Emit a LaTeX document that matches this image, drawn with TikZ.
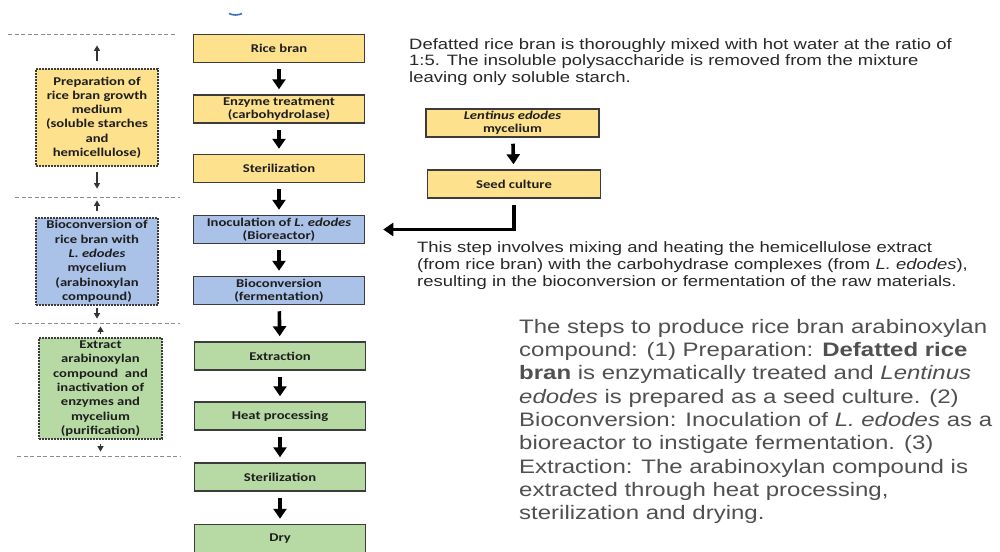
\documentclass[tikz,border=0pt]{standalone}
\usepackage{fontspec}
\newfontfamily\boxfont[FakeStretch=1.23]{Carlito}
\newfontfamily\parafont[FakeStretch=1.23]{Liberation Sans}
\usetikzlibrary{arrows.meta}
\definecolor{fyel}{RGB}{253,225,140}
\definecolor{fblu}{RGB}{170,193,232}
\definecolor{fgrn}{RGB}{183,218,164}
\definecolor{edge}{RGB}{60,60,60}
\definecolor{txt}{RGB}{30,30,30}
\definecolor{paratxt}{RGB}{40,40,40}
\definecolor{graytxt}{RGB}{80,80,80}
\definecolor{artblue}{RGB}{60,110,190}
\begin{document}
\begin{tikzpicture}[x=1pt,y=-1pt,
 mainbox/.style={draw=edge, line width=1.5pt, minimum width=171pt, minimum height=28pt, inner sep=0pt, align=center, text=txt, font=\boxfont\bfseries\fontsize{11.9}{12.7}\selectfont},
 sidebox/.style={draw=edge, line width=1.2pt, dash pattern=on 2pt off 1pt, inner sep=0pt, align=center, text=txt, font=\boxfont\bfseries\fontsize{11.9}{14.3}\selectfont},
 bigarrow/.style={line width=3.6pt, -{Triangle[width=13pt,length=10pt]}, shorten <=6pt, shorten >=5pt},
 thinarrow/.style={line width=1.3pt, draw=black!80, -{Triangle[width=6pt,length=5.5pt]}},
 sep/.style={draw=black!45, line width=0.8pt, dash pattern=on 4pt off 2.5pt},
 para/.style={anchor=north west, inner sep=0pt, align=left}
]
\fill[white] (0,0) rectangle (1000,551);
\useasboundingbox (0,0) rectangle (1000,551);

% small blue mark at the top
\draw[line width=1.6pt, draw=artblue] (229,13.5) .. controls (233,15.5) and (238,15.5) .. (242,13.5);

% main column
\node[mainbox, fill=fyel] (rice)  at (279,48.5) {Rice bran};
\node[mainbox, fill=fyel] (enz)   at (279,109)  {Enzyme treatment\\(carbohydrolase)};
\node[mainbox, fill=fyel] (ster1) at (279,168.5){Sterilization};
\node[mainbox, fill=fblu] (inoc)  at (279,229.5){Inoculation of \textit{L. edodes}\\(Bioreactor)};
\node[mainbox, fill=fblu] (bioc)  at (279,290.5){Bioconversion\\(fermentation)};
\node[mainbox, fill=fgrn] (extr)  at (280,356)  {Extraction};
\node[mainbox, fill=fgrn] (heat)  at (280,416)  {Heat processing};
\node[mainbox, fill=fgrn] (ster2) at (280,477)  {Sterilization};
\node[mainbox, fill=fgrn] (dry)   at (280,538.5){Dry};

% right column
\node[mainbox, fill=fyel, minimum width=173pt] (lent) at (512.5,123) {\textit{Lentinus edodes}\\mycelium};
\node[mainbox, fill=fyel, minimum width=173pt] (seed) at (514,184)   {Seed culture};

% side boxes
\node[sidebox, fill=fyel, minimum width=122pt, minimum height=97pt] (yel) at (97,117.5)
  {Preparation of\\rice bran growth\\medium\\(soluble starches\\and\\hemicellulose)};
\node[sidebox, fill=fblu, minimum width=122pt, minimum height=87pt] (blu) at (97,261.5)
  {Bioconversion of\\rice bran with\\\textit{L. edodes}\\mycelium\\(arabinoxylan\\compound)};
\node[sidebox, fill=fgrn, minimum width=123pt, minimum height=101pt] (grn) at (100.5,388.5)
  {Extract\\arabinoxylan\\compound\ \ and\\inactivation of\\enzymes and\\mycelium\\(purification)};

% separators
\draw[sep] (8,34) -- (175,34);
\draw[sep] (15,197) -- (180,197);
\draw[sep] (15,323) -- (180,323);
\draw[sep] (17,456) -- (180,456);

% small arrows
\draw[thinarrow] ([yshift=7pt]yel.north) -- ++(0,-16);
\draw[thinarrow] ([yshift=-5pt]yel.south) -- ++(0,17);
\draw[thinarrow] ([yshift=6pt]blu.north) -- ++(0,-11);
\draw[thinarrow] ([yshift=-2pt]blu.south) -- ++(0,11);
\draw[thinarrow] ([yshift=3pt]grn.north) -- ++(0,-8);
\draw[thinarrow] ([yshift=-4pt]grn.south) -- ++(0,8);

% main arrows
\draw[bigarrow] (rice) -- (enz);
\draw[bigarrow] (enz) -- (ster1);
\draw[bigarrow] (ster1) -- (inoc);
\draw[bigarrow] (inoc) -- (bioc);
\draw[bigarrow] (bioc) -- (extr);
\draw[bigarrow] (extr) -- (heat);
\draw[bigarrow] (heat) -- (ster2);
\draw[bigarrow] (ster2) -- (dry);
\draw[bigarrow] (lent) -- (seed);
\draw[bigarrow, line width=3.2pt, shorten >=18pt] (seed.south) |- (inoc.east);

% paragraphs
\node[para, text=paratxt, font=\parafont\fontsize{15}{16.5}\selectfont] (p1) at (409,38)
  {Defatted rice bran is thoroughly mixed with hot water at the ratio of\\
   1:5. The insoluble polysaccharide is removed from the mixture\\
   leaving only soluble starch.};
\node[para, text=paratxt, font=\parafont\fontsize{15}{17}\selectfont] (p2) at (417,241)
  {This step involves mixing and heating the hemicellulose extract\\
   (from rice bran) with the carbohydrase complexes (from \textit{L. edodes}),\\
   resulting in the bioconversion or fermentation of the raw materials.};
\node[para, text=graytxt, font=\parafont\fontsize{19.5}{23.3}\selectfont] (p3) at (519,319)
  {The steps to produce rice bran arabinoxylan\\
   compound: (1) Preparation: \textbf{Defatted rice}\\
   \textbf{bran} is enzymatically treated and \textit{Lentinus}\\
   \textit{edodes} is prepared as a seed culture. (2)\\
   Bioconversion: Inoculation of \textit{L. edodes} as a\\
   bioreactor to instigate fermentation. (3)\\
   Extraction: The arabinoxylan compound is\\
   extracted through heat processing,\\
   sterilization and drying.};
\end{tikzpicture}
\end{document}
